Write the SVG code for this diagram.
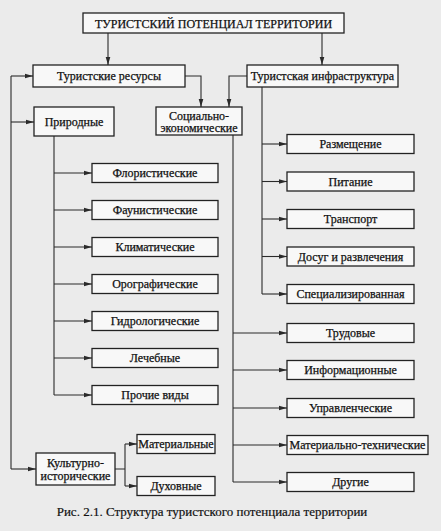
<svg xmlns="http://www.w3.org/2000/svg" width="441" height="531" viewBox="0 0 441 531">
<style>
.box{fill:#f8f8f8;stroke:#222;stroke-width:1.3}
.t{font-family:"Liberation Serif","Times New Roman",serif;font-size:12px;fill:#111;stroke:#111;stroke-width:0.25;text-anchor:middle;dominant-baseline:central}
.ln{fill:none;stroke:#2a2a2a;stroke-width:1.1}
.cap{font-family:"Liberation Serif","Times New Roman",serif;font-size:13px;fill:#111;stroke:#111;stroke-width:0.2;text-anchor:middle;dominant-baseline:central}
</style>
<defs>
<marker id="ah" markerUnits="userSpaceOnUse" markerWidth="8" markerHeight="6" refX="8" refY="3" orient="auto">
<path d="M0,0.7 L8,3 L0,5.3 z" fill="#2a2a2a"/>
</marker>
</defs>
<rect width="441" height="531" fill="#ebebeb"/>
<g id="connectors">
<path class="ln" marker-end="url(#ah)" d="M108,33 V65"/>
<path class="ln" marker-end="url(#ah)" d="M322,33 V65"/>
<path class="ln" marker-end="url(#ah)" d="M185,76 H201 V107"/>
<path class="ln" marker-end="url(#ah)" d="M247,76 H229 V107"/>
<path class="ln" d="M11,76 V469"/>
<path class="ln" marker-end="url(#ah)" d="M11,76 H33"/>
<path class="ln" marker-end="url(#ah)" d="M11,122 H34"/>
<path class="ln" marker-end="url(#ah)" d="M11,469 H36"/>
<path class="ln" d="M54,136 V395"/>
<path class="ln" marker-end="url(#ah)" d="M54,173 H92"/>
<path class="ln" marker-end="url(#ah)" d="M54,210 H92"/>
<path class="ln" marker-end="url(#ah)" d="M54,247 H92"/>
<path class="ln" marker-end="url(#ah)" d="M54,284 H92"/>
<path class="ln" marker-end="url(#ah)" d="M54,321 H92"/>
<path class="ln" marker-end="url(#ah)" d="M54,358 H92"/>
<path class="ln" marker-end="url(#ah)" d="M54,395 H92"/>
<path class="ln" d="M262,87 V294"/>
<path class="ln" marker-end="url(#ah)" d="M262,144 H287"/>
<path class="ln" marker-end="url(#ah)" d="M262,181.5 H287"/>
<path class="ln" marker-end="url(#ah)" d="M262,219 H287"/>
<path class="ln" marker-end="url(#ah)" d="M262,256.5 H287"/>
<path class="ln" marker-end="url(#ah)" d="M262,294 H287"/>
<path class="ln" d="M233,135 V482"/>
<path class="ln" marker-end="url(#ah)" d="M233,333 H287"/>
<path class="ln" marker-end="url(#ah)" d="M233,370 H287"/>
<path class="ln" marker-end="url(#ah)" d="M233,408 H287"/>
<path class="ln" marker-end="url(#ah)" d="M233,445 H287"/>
<path class="ln" marker-end="url(#ah)" d="M233,482 H287"/>
<path class="ln" d="M115,469 H125 M125,444 V486"/>
<path class="ln" marker-end="url(#ah)" d="M125,444 H137"/>
<path class="ln" marker-end="url(#ah)" d="M125,486 H137"/>
</g>
<g id="title"><rect class="box" x="83" y="13" width="261" height="20"/><text class="t" x="213.5" y="23.5">ТУРИСТСКИЙ ПОТЕНЦИАЛ ТЕРРИТОРИИ</text></g>
<g id="resources"><rect class="box" x="33" y="65" width="152" height="22"/><text class="t" x="109" y="76">Туристские ресурсы</text></g>
<g id="infra"><rect class="box" x="247" y="65" width="151" height="22"/><text class="t" x="322.5" y="76">Туристская инфраструктура</text></g>
<g id="natural"><rect class="box" x="34" y="107" width="80" height="29"/><text class="t" x="74" y="122">Природные</text></g>
<g id="socio"><rect class="box" x="156" y="107" width="86" height="28"/><text class="t" x="199" y="115.5">Социально-</text><text class="t" x="199" y="128">экономические</text></g>
<g id="flor"><rect class="box" x="92" y="163.5" width="126" height="19"/><text class="t" x="155" y="173">Флористические</text></g>
<g id="faun"><rect class="box" x="92" y="200.5" width="126" height="19"/><text class="t" x="155" y="210">Фаунистические</text></g>
<g id="clim"><rect class="box" x="92" y="237.5" width="126" height="19"/><text class="t" x="155" y="247">Климатические</text></g>
<g id="orog"><rect class="box" x="92" y="274.5" width="126" height="19"/><text class="t" x="155" y="284">Орографические</text></g>
<g id="hydro"><rect class="box" x="92" y="311.5" width="126" height="19"/><text class="t" x="155" y="321">Гидрологические</text></g>
<g id="med"><rect class="box" x="92" y="348.5" width="126" height="19"/><text class="t" x="155" y="358">Лечебные</text></g>
<g id="other-res"><rect class="box" x="92" y="385.5" width="126" height="19"/><text class="t" x="155" y="395">Прочие виды</text></g>
<g id="cult"><rect class="box" x="36" y="453" width="79" height="32"/><text class="t" x="75.5" y="462.5">Культурно-</text><text class="t" x="75.5" y="475.5">исторические</text></g>
<g id="mat"><rect class="box" x="137" y="434.5" width="78" height="19"/><text class="t" x="176" y="444">Материальные</text></g>
<g id="spirit"><rect class="box" x="137" y="476.5" width="78" height="19"/><text class="t" x="176" y="486">Духовные</text></g>
<g id="accom"><rect class="box" x="287" y="134.5" width="127" height="19"/><text class="t" x="350.5" y="144">Размещение</text></g>
<g id="food"><rect class="box" x="287" y="172" width="127" height="19"/><text class="t" x="350.5" y="181.5">Питание</text></g>
<g id="transport"><rect class="box" x="287" y="209.5" width="127" height="19"/><text class="t" x="350.5" y="219">Транспорт</text></g>
<g id="leisure"><rect class="box" x="287" y="247" width="127" height="19"/><text class="t" x="350.5" y="256.5">Досуг и развлечения</text></g>
<g id="special"><rect class="box" x="287" y="284.5" width="127" height="19"/><text class="t" x="350.5" y="294">Специализированная</text></g>
<g id="labor"><rect class="box" x="287" y="323.5" width="127" height="19"/><text class="t" x="350.5" y="333">Трудовые</text></g>
<g id="info"><rect class="box" x="287" y="360.5" width="127" height="19"/><text class="t" x="350.5" y="370">Информационные</text></g>
<g id="manage"><rect class="box" x="287" y="398.5" width="127" height="19"/><text class="t" x="350.5" y="408">Управленческие</text></g>
<g id="mattech"><rect class="box" x="287" y="435.5" width="141" height="19"/><text class="t" x="357.5" y="445">Материально-технические</text></g>
<g id="other-inf"><rect class="box" x="287" y="472.5" width="127" height="19"/><text class="t" x="350.5" y="482">Другие</text></g>
<text class="cap" x="212" y="511">Рис. 2.1. Структура туристского потенциала территории</text>
</svg>
